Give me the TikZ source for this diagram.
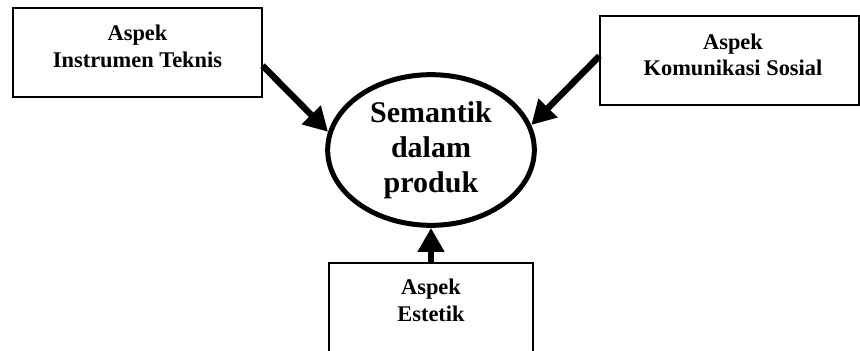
\documentclass[tikz,border=0pt]{standalone}
\usepackage{fontspec}
\setmainfont{Liberation Serif}
\usetikzlibrary{arrows.meta,shapes.geometric}
\tikzset{
  aspekBox/.style={rectangle,draw=black,line width=0.8pt,minimum width=186.75pt,minimum height=66.75pt,inner sep=0pt},
  boxText/.style={align=center,inner sep=0pt,font=\fontsize{16.8}{20}\selectfont\bfseries},
  semNode/.style={ellipse,draw=black,line width=3.75pt,minimum width=155pt,minimum height=113pt,inner sep=0pt,align=center,font=\fontsize{22.5}{26.25}\selectfont\bfseries},
  bigArrow/.style={line width=4.8pt,-{Triangle[length=18pt,width=19pt]}}
}

\begin{document}
\begin{tikzpicture}[x=0.75pt,y=-0.75pt]
  \clip (0,0) rectangle (860,350);
  % boxes (coordinates in pixels)
  \node[aspekBox] (instr) at (137.5,52.5) {};
  \node[boxText] (instrText) at (137.5,46.5) {Aspek\\Instrumen Teknis};
  \node[aspekBox,minimum width=194.25pt] (social) at (729.5,60.5) {};
  \node[boxText] (socialText) at (733,55) {Aspek\\Komunikasi Sosial};
  \node[aspekBox,minimum width=153pt,minimum height=75pt] (estetik) at (431,313) {};
  \node[boxText] (estetikText) at (431,300) {Aspek\\Estetik};
  % center
  \node[semNode] (sem) at (431,150) {Semantik\\dalam\\produk};
  % arrows
  \draw[bigArrow] (instr.-6) -- (sem.170);
  \draw[bigArrow] (social.178) -- (sem.14);
  \draw[bigArrow] (estetik.north) -- (sem.south);
\end{tikzpicture}
\end{document}
